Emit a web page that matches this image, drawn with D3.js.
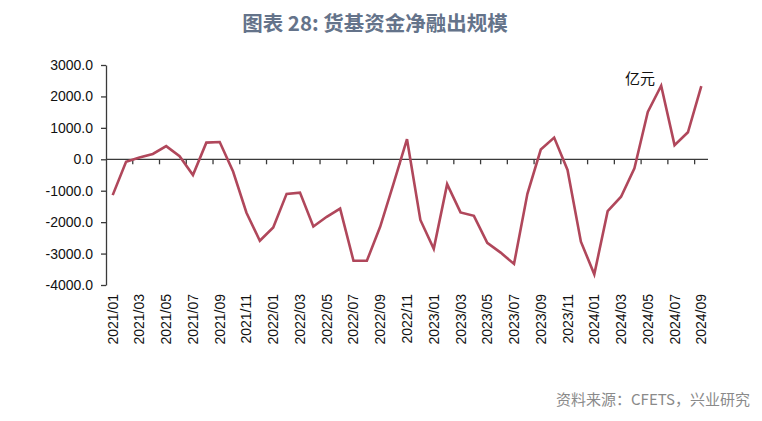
<!DOCTYPE html>
<html><head><meta charset="utf-8">
<script src="https://cdn.jsdelivr.net/npm/d3@7"></script>
<style>body{margin:0;background:#fff;}svg{display:block;}</style>
</head><body><svg id="c" width="762" height="421"></svg>
<script>
const months = [];
for (let y = 2021; y <= 2024; y++) for (let m = 1; m <= 12; m++) { if (y === 2024 && m > 9) break; months.push(y + "/" + String(m).padStart(2, "0")); }
const values = [-1140, -80, 60, 170, 420, 100, -500, 530, 550, -390, -1700, -2590, -2170, -1100, -1060, -2140, -1830, -1570, -3230, -3230, -2140, -770, 640, -1930, -2850, -790, -1690, -1800, -2660, -2970, -3330, -1100, 310, 690, -340, -2620, -3660, -1650, -1190, -290, 1510, 2340, 450, 860, 2330];
const yTicks = [3000, 2000, 1000, 0, -1000, -2000, -3000, -4000];
const title = "图表 28: 货基资金净融出规模";
const unit = "亿元";
const source = "资料来源：CFETS，兴业研究";

const svg = d3.select("#c");
const x = d3.scaleBand().domain(months).range([106, 708]).padding(0);
const y = d3.scaleLinear().domain([-4000, 3000]).range([285, 65]);
const axisColor = "#3a3a3a";
const font = "'Liberation Sans', Arial, sans-serif";

svg.append("text").attr("x", 375).attr("y", 31).attr("text-anchor", "middle")
  .attr("font-family", "'Noto Sans CJK SC', sans-serif").attr("font-weight", "bold")
  .attr("font-size", 20.5).attr("fill", "#64738a").text(title);

// y axis
const ya = svg.append("g").attr("transform", "translate(106,0)")
  .call(d3.axisLeft(y).tickValues(yTicks).tickSize(5).tickSizeOuter(0).tickPadding(8).tickFormat(d => d.toFixed(1)));
ya.select(".domain").attr("stroke", axisColor).attr("stroke-width", 1.3);
ya.selectAll(".tick line").attr("stroke", axisColor).attr("stroke-width", 1.3);
ya.selectAll("text").attr("font-family", font).attr("font-size", 14).attr("fill", "#111");

// x axis at zero
const y0 = y(0);
svg.append("line").attr("x1", x.range()[0]).attr("x2", x.range()[1]).attr("y1", y0).attr("y2", y0)
  .attr("stroke", axisColor).attr("stroke-width", 1.3);
const tickIdx = months.map((m, i) => i).filter(i => i % 2 === 0 && i > 0);
svg.selectAll(".xt").data(tickIdx).join("line")
  .attr("x1", i => x(months[i])).attr("x2", i => x(months[i]))
  .attr("y1", y0).attr("y2", y0 + 5).attr("stroke", axisColor).attr("stroke-width", 1.3);

// x labels
const labIdx = months.map((m, i) => i).filter(i => i % 2 === 0);
svg.selectAll(".xl").data(labIdx).join("text")
  .attr("transform", i => `translate(${x(months[i]) + x.bandwidth() / 2 + 5},294) rotate(-90)`)
  .attr("text-anchor", "end").attr("font-family", font).attr("font-size", 14).attr("fill", "#111")
  .text(i => months[i]);

// line
const line = d3.line().x((d, i) => x(months[i]) + x.bandwidth() / 2).y(d => y(d));
svg.append("path").datum(values).attr("d", line).attr("fill", "none")
  .attr("stroke", "#b0475b").attr("stroke-width", 2.6).attr("stroke-linejoin", "miter");

svg.append("text").attr("x", 625).attr("y", 84).attr("font-family", "'Noto Sans CJK SC', serif")
  .attr("font-size", 15).attr("fill", "#111").text(unit);

svg.append("text").attr("x", 750).attr("y", 405).attr("text-anchor", "end")
  .attr("font-family", "'Noto Sans CJK SC', sans-serif").attr("font-size", 15).attr("fill", "#8a8a8a").text(source);
</script></body></html>
